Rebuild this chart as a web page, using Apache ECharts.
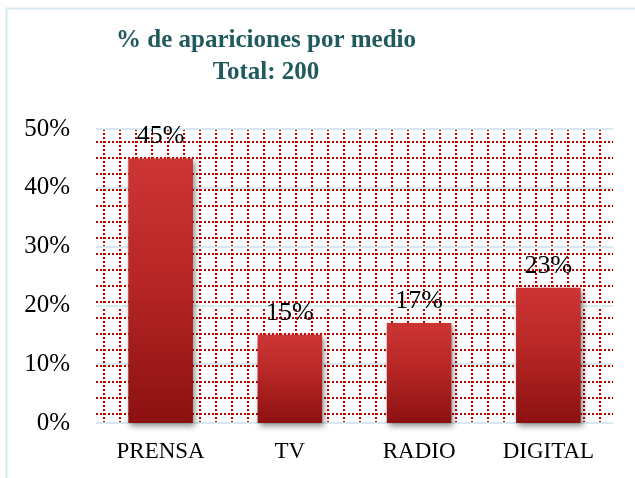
<!DOCTYPE html>
<html lang="es">
<head>
    <meta charset="UTF-8">
    <title>% de apariciones por medio</title>
    <script src="https://cdn.jsdelivr.net/npm/echarts@6/dist/echarts.min.js"></script>
    <style>
        html, body { margin: 0; padding: 0; background: #fff; }
        #main { width: 635px; height: 478px; }
    </style>
</head>
<body>
<div id="main"></div>
<script type="text/javascript">
    // datos del grafico
    var medios = ['PRENSA', 'TV', 'RADIO', 'DIGITAL'];
    var porcentajes = [45, 15, 17, 23];
    var tituloTexto = '% de apariciones por medio';
    var total = 200;

    var serif = '"Liberation Serif", "Times New Roman", serif';
    var azul = '#D6ECF1';
    var rojo = '#C00000';

    var myChart = echarts.init(document.getElementById('main'));

    var option = {
        backgroundColor: '#fff',
        animation: false,
        title: {
            text: tituloTexto + '\nTotal: ' + total,
            left: 261,
            textAlign: 'center',
            top: 20,
            textStyle: {
                fontFamily: serif,
                fontWeight: 'bold',
                fontSize: 25,
                lineHeight: 32,
                color: '#215A5E'
            }
        },
        graphic: [{
            type: 'rect',
            shape: { x: 6.5, y: 8.5, width: 700, height: 600 },
            style: { fill: 'none', stroke: azul, lineWidth: 2 },
            silent: true
        }],
        grid: [
            { left: 96, right: 22, top: 129, bottom: 55 },
            { left: 103.5, right: 35.3, top: 129, bottom: 55 },
            { left: 96, right: 22, top: 142, bottom: 64 }
        ],
        xAxis: [{
            gridIndex: 0,
            type: 'category',
            data: medios,
            axisLine: { show: false },
            axisTick: { show: false },
            axisLabel: {
                margin: 17,
                fontFamily: serif,
                fontSize: 23,
                color: '#000'
            }
        }, {
            gridIndex: 1,
            type: 'value',
            min: 0,
            max: 31,
            interval: 1,
            axisLine: { show: false },
            axisTick: { show: false },
            axisLabel: { show: false },
            splitLine: { show: true, lineStyle: { color: rojo, width: 2, type: [2, 2] } }
        }, {
            gridIndex: 2,
            type: 'value',
            show: false
        }],
        yAxis: [{
            gridIndex: 0,
            type: 'value',
            min: 0,
            max: 50,
            interval: 10,
            z: 3,
            axisLine: { show: false },
            axisTick: { show: false },
            axisLabel: {
                margin: 26,
                formatter: '{value}%',
                fontFamily: serif,
                fontSize: 25,
                color: '#000'
            },
            splitLine: { lineStyle: { color: azul, width: 2 } }
        }, {
            gridIndex: 1,
            type: 'value',
            show: false
        }, {
            gridIndex: 2,
            type: 'value',
            min: 0,
            max: 17,
            interval: 1,
            axisLine: { show: false },
            axisTick: { show: false },
            axisLabel: { show: false },
            splitLine: { show: true, lineStyle: { color: rojo, width: 2, type: [2, 2] } }
        }],
        series: [{
            name: 'Apariciones',
            type: 'bar',
            xAxisIndex: 0,
            yAxisIndex: 0,
            z: 5,
            data: porcentajes,
            barWidth: '50%',
            itemStyle: {
                color: new echarts.graphic.LinearGradient(0, 0, 0, 1, [
                    { offset: 0, color: '#CD3535' },
                    { offset: 0.45, color: '#B82626' },
                    { offset: 1, color: '#8C1111' }
                ]),
                shadowColor: 'rgba(0,0,0,0.45)',
                shadowBlur: 6,
                shadowOffsetX: 2,
                shadowOffsetY: 3
            },
            label: {
                show: true,
                position: 'top',
                distance: 9,
                formatter: '{c}%',
                fontFamily: serif,
                fontSize: 26,
                color: '#000'
            }
        }]
    };

    myChart.setOption(option);
</script>
</body>
</html>
